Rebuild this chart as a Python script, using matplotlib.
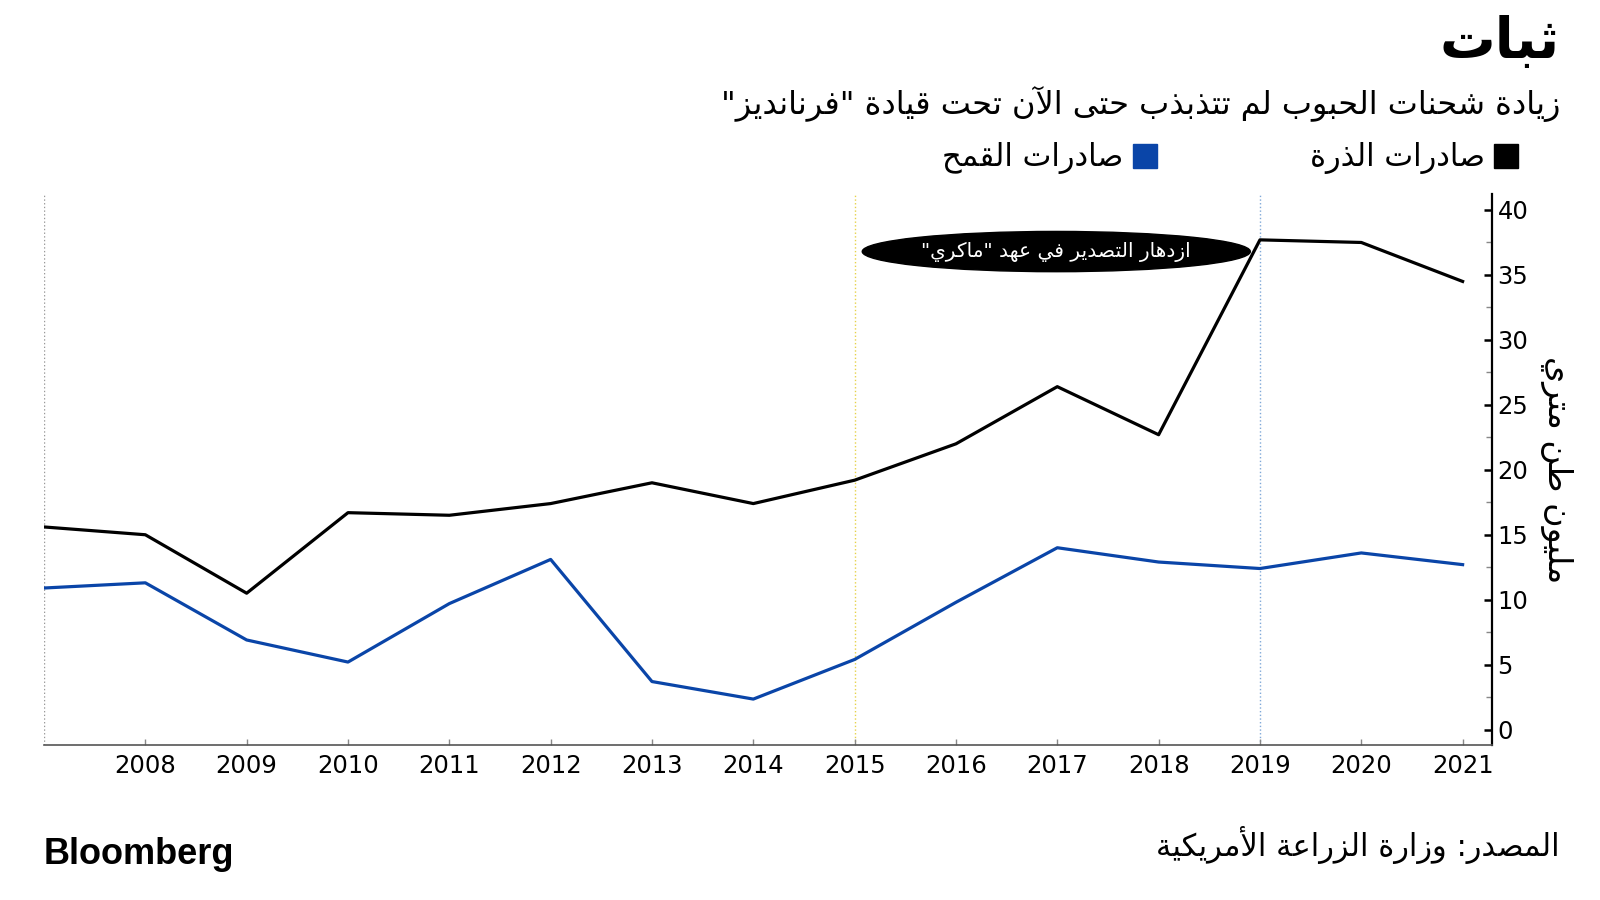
import numpy as np
import matplotlib.pyplot as plt
from matplotlib.lines import Line2D
from matplotlib.patches import Ellipse

# data (million metric tons)
years = np.arange(2007, 2022)
corn = [15.6, 15.0, 10.5, 16.7, 16.5, 17.4, 19.0, 17.4, 19.2, 22.0, 26.4, 22.7, 37.7, 37.5, 34.5]
wheat = [10.9, 11.3, 6.9, 5.2, 9.7, 13.1, 3.7, 2.35, 5.4, 9.8, 14.0, 12.9, 12.4, 13.6, 12.7]
xtick_years = list(range(2008, 2022))
yticks = [0, 5, 10, 15, 20, 25, 30, 35, 40]
markers = {2007: '#999999', 2015: '#e6d24a', 2019: '#7fa8d8'}

title = 'ثبات'
subtitle = 'زيادة شحنات الحبوب لم تتذبذب حتى الآن تحت قيادة "فرنانديز"'
corn_label = 'صادرات الذرة'
wheat_label = 'صادرات القمح'
note = 'ازدهار التصدير في عهد "ماكري"'
ylabel = 'مليون طن متري'
source = 'المصدر: وزارة الزراعة الأمريكية'

# matplotlib does no arabic shaping, so pick presentation forms by hand
DUAL = {'ئ': 0xFE89, 'ب': 0xFE8F, 'ت': 0xFE95, 'ث': 0xFE99, 'ج': 0xFE9D, 'ح': 0xFEA1,
        'خ': 0xFEA5, 'س': 0xFEB1, 'ش': 0xFEB5, 'ص': 0xFEB9, 'ض': 0xFEBD, 'ط': 0xFEC1,
        'ظ': 0xFEC5, 'ع': 0xFEC9, 'غ': 0xFECD, 'ف': 0xFED1, 'ق': 0xFED5, 'ك': 0xFED9,
        'ل': 0xFEDD, 'م': 0xFEE1, 'ن': 0xFEE5, 'ه': 0xFEE9, 'ي': 0xFEF1}
RIGHT = {'آ': 0xFE81, 'أ': 0xFE83, 'ؤ': 0xFE85, 'إ': 0xFE87, 'ا': 0xFE8D, 'ة': 0xFE93,
         'د': 0xFEA9, 'ذ': 0xFEAB, 'ر': 0xFEAD, 'ز': 0xFEAF, 'و': 0xFEED, 'ى': 0xFEEF}
LAMALEF = {'آ': 0xFEF5, 'أ': 0xFEF7, 'إ': 0xFEF9, 'ا': 0xFEFB}


def ar(s):
    chars = []
    i = 0
    while i < len(s):
        if s[i] == 'ل' and i + 1 < len(s) and s[i + 1] in LAMALEF:
            chars.append(('LA', s[i + 1]))
            i += 2
        else:
            chars.append(s[i])
            i += 1

    def joins(c):
        return c in DUAL or c in RIGHT or isinstance(c, tuple)

    out = []
    for k, c in enumerate(chars):
        p = k > 0 and chars[k - 1] in DUAL
        n = k + 1 < len(chars) and joins(chars[k + 1])
        if isinstance(c, tuple):
            out.append(chr(LAMALEF[c[1]] + p))
        elif c in RIGHT:
            out.append(chr(RIGHT[c] + p))
        elif c in DUAL:
            if p and n:
                f = 3
            elif n:
                f = 2
            elif p:
                f = 1
            else:
                f = 0
            out.append(chr(DUAL[c] + f))
        else:
            out.append(c)
    return ''.join(out)[::-1]


plt.rcParams['font.family'] = ['DejaVu Sans']

fig = plt.figure(figsize=(16, 9), dpi=100)
ax = fig.add_axes([0.0275, 0.172, 0.905, 0.612])

for yr, col in markers.items():
    ax.axvline(yr, color=col, lw=1, ls=':', zorder=1)

ax.plot(years, corn, color='black', lw=2.3, zorder=3)
ax.plot(years, wheat, color='#0a45a8', lw=2.3, zorder=3)

ax.set_xlim(2007, 2021.29)
ax.set_ylim(-1.2, 41.2)
ax.set_xticks(xtick_years)
ax.set_xticklabels([str(y) for y in xtick_years])
ax.set_yticks(yticks)
ax.set_yticks(np.arange(2.5, 40, 5), minor=True)

ax.yaxis.tick_right()
ax.yaxis.set_label_position('right')
for s in ['top', 'left']:
    ax.spines[s].set_visible(False)
ax.spines['right'].set_linewidth(1.6)
ax.spines['bottom'].set_color('#555555')
ax.spines['bottom'].set_linewidth(1.2)
ax.tick_params(axis='y', which='major', direction='in', length=6, width=1.8, labelsize=17.5, pad=4)
ax.tick_params(axis='y', which='minor', direction='in', length=4, width=1, color='#888888')
ax.tick_params(axis='x', direction='in', length=4, width=1, color='#888888', labelsize=17.5, pad=6)
ax.set_ylabel(ar(ylabel), fontsize=24, rotation=-90, labelpad=8, va='bottom')

# annotation
ax.add_patch(Ellipse((2016.99, 36.8), 3.83, 3.1, color='black', zorder=4))
ax.text(2016.99, 36.8, ar(note), color='white', fontsize=14.5, ha='center', va='center', zorder=5)

# texts
fig.text(0.975, 0.952, ar(title), fontsize=40, fontweight='bold', ha='right', va='center')
fig.text(0.975, 0.884, ar(subtitle), fontsize=23, ha='right', va='center')
fig.text(0.975, 0.061, ar(source), fontsize=22, ha='right', va='center')
fig.text(0.0275, 0.05, 'Bloomberg', fontsize=26, fontweight='bold', ha='left', va='center',
         family=['Liberation Sans'])

handles = [Line2D([], [], marker='s', ls='none', color='#0a45a8', markersize=17),
           Line2D([], [], marker='s', ls='none', color='black', markersize=17)]
fig.legend(handles, [ar(wheat_label), ar(corn_label)], loc='center right',
           bbox_to_anchor=(0.949, 0.824), ncol=2, markerfirst=False, frameon=False,
           fontsize=22, handlelength=0.8, handletextpad=0.3, columnspacing=5.0,
           borderpad=0, borderaxespad=0)

fig.savefig('out.png', dpi=100)
